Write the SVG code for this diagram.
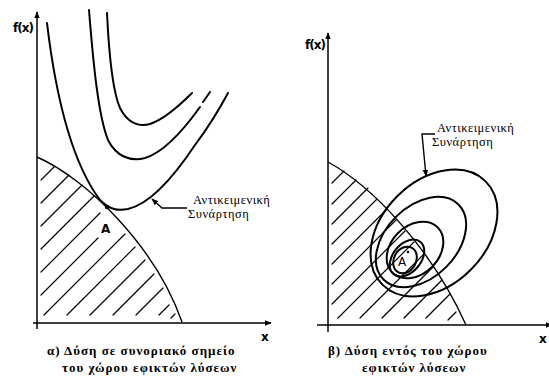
<svg xmlns="http://www.w3.org/2000/svg" width="549" height="378" viewBox="0 0 549 378">
  <defs>
    <marker id="ax" viewBox="0 0 10 10" refX="9" refY="5" markerWidth="7" markerHeight="7" markerUnits="userSpaceOnUse" orient="auto">
      <path d="M0,1 L10,5 L0,9 Z" fill="#000"/>
    </marker>
    <marker id="ar" viewBox="0 0 10 10" refX="9" refY="5" markerWidth="7" markerHeight="7" markerUnits="userSpaceOnUse" orient="auto">
      <path d="M0,1 L10,5 L0,9 Z" fill="#000"/>
    </marker>
  </defs>
  <style>
    .axis { stroke: #000; stroke-width: 1.5; fill: none; }
    .curve { stroke: #000; stroke-width: 2; fill: none; stroke-linecap: round; }
    .bound { stroke: #000; stroke-width: 1.4; fill: none; }
    .hatch { stroke: #000; stroke-width: 1.2; fill: none; stroke-linecap: round; }
    .lead { stroke: #000; stroke-width: 1.4; fill: none; }
    .lbl { font-family: "Liberation Serif", "DejaVu Serif", serif; font-size: 12.5px; fill: #000; letter-spacing: 0.5px; }
    .cap { font-family: "Liberation Serif", "DejaVu Serif", serif; font-size: 13px; font-weight: bold; fill: #000; letter-spacing: 1px; }
    .hand { font-family: "DejaVu Sans", "Liberation Sans", sans-serif; font-size: 12px; fill: #000; }
  </style>
  <rect width="549" height="378" fill="#fff"/>

  <!-- Panel a -->
  <g id="panel-a">
    <g id="a-axes">
      <line class="axis" x1="37" y1="329" x2="37" y2="12" marker-end="url(#ax)"/>
      <line class="axis" x1="33" y1="323" x2="271" y2="323" marker-end="url(#ax)"/>
      <text class="hand" x="13" y="32" font-weight="bold" letter-spacing="-1">f(x)</text>
      <text class="hand" x="261" y="341" font-weight="bold">x</text>
    </g>
    <g id="a-feasible">
      <path class="bound" d="M37,157 C85,178 155,245 182,322"/>
      <g class="hatch">
        <line x1="41" y1="180" x2="54" y2="167"/>
        <line x1="41" y1="203" x2="69" y2="175"/>
        <line x1="41" y1="226" x2="82" y2="185"/>
        <line x1="41" y1="249" x2="94" y2="196"/>
        <line x1="41" y1="272" x2="100" y2="213"/>
        <line x1="41" y1="295" x2="98" y2="238"/>
        <line x1="44" y1="315" x2="125" y2="234"/>
        <line x1="67" y1="315" x2="135" y2="247"/>
        <line x1="90" y1="315" x2="145" y2="260"/>
        <line x1="113" y1="315" x2="154" y2="274"/>
        <line x1="136" y1="315" x2="163" y2="288"/>
        <line x1="159" y1="315" x2="169" y2="305"/>
        <line x1="171" y1="318" x2="175" y2="314"/>
      </g>
    </g>
    <g id="a-objective">
      <path class="curve" d="M107,13 C109,55 112,90 120,108 C128,124 140,127 150,124 C165,119 180,105 192,93"/>
      <path class="curve" d="M89,10 C93,60 98,115 108,140 C116,156 130,162 145,158 C165,152 185,128 200,107 M203,102 L210,92"/>
      <path class="curve" d="M47,23 C55,90 70,160 100,200 C110,210 118,211 128,209 C150,204 175,175 195,145 C210,125 220,108 228,93"/>
      <circle cx="107" cy="207" r="2.2" fill="#000"/>
    </g>
    <g id="a-pointA">
      <text class="hand" x="101" y="233" font-weight="bold">A</text>
    </g>
    <g id="a-label">
      <text class="lbl" x="193" y="204">Αντικειμενική</text>
      <text class="lbl" x="188" y="218">Συνάρτηση</text>
    </g>
    <g id="a-caption">
      <text class="cap" x="47" y="355">α) Δύση σε συνοριακό σημείο</text>
      <text class="cap" x="62" y="372">του χώρου εφικτών λύσεων</text>
    </g>
  </g>

  <!-- Panel b -->
  <g id="panel-b">
    <g id="b-axes">
      <line class="axis" x1="328" y1="332" x2="328" y2="33" marker-end="url(#ax)"/>
      <line class="axis" x1="317" y1="325" x2="552" y2="325" marker-end="url(#ax)"/>
      <text class="hand" x="305" y="49" font-weight="bold" letter-spacing="-1">f(x)</text>
      <text class="hand" x="539" y="343" font-weight="bold">x</text>
    </g>
    <g id="b-feasible">
      <path class="bound" d="M328,162 C370,185 430,245 466,325"/>
      <g class="hatch">
        <line x1="332" y1="183" x2="344" y2="171"/>
        <line x1="332" y1="204" x2="356" y2="180"/>
        <line x1="332" y1="224" x2="368" y2="188"/>
        <line x1="332" y1="244" x2="377" y2="199"/>
        <line x1="332" y1="264" x2="386" y2="210"/>
        <line x1="332" y1="284" x2="396" y2="220"/>
        <line x1="332" y1="304" x2="405" y2="231"/>
        <line x1="338" y1="318" x2="414" y2="242"/>
        <line x1="360" y1="318" x2="424" y2="254"/>
        <line x1="382" y1="318" x2="433" y2="267"/>
        <line x1="404" y1="318" x2="442" y2="280"/>
        <line x1="426" y1="318" x2="450" y2="294"/>
        <line x1="448" y1="320" x2="456" y2="312"/>
      </g>
    </g>
    <g id="b-objective">
      <ellipse class="curve" cx="434" cy="233" rx="73" ry="52" transform="rotate(-45 434 233)"/>
      <ellipse class="curve" cx="421" cy="242" rx="53" ry="35.5" transform="rotate(-45 421 242)"/>
      <ellipse class="curve" cx="415" cy="250" rx="32" ry="24" transform="rotate(-45 415 250)"/>
      <ellipse class="curve" cx="407" cy="258" rx="21" ry="14" transform="rotate(-50 407 258)"/>
      <ellipse class="curve" cx="405" cy="260" rx="14" ry="11" transform="rotate(-60 405 260)"/>
    </g>
    <g id="b-pointA">
      <text class="hand" x="398" y="266" font-size="11">A</text>
      <circle cx="408" cy="252" r="1.2" fill="#000"/>
    </g>
    <g id="b-label">
      <text class="lbl" x="437" y="132">Αντικειμενική</text>
      <text class="lbl" x="432" y="146">Συνάρτηση</text>
    </g>
    <g id="b-caption">
      <text class="cap" x="328" y="355">β) Δύση εντός του χώρου</text>
      <text class="cap" x="362" y="372">εφικτών λύσεων</text>
    </g>
  </g>

  <!-- Connectors -->
  <g id="connectors">
    <path class="lead" d="M187,208 L162,208 L152,199" marker-end="url(#ar)"/>
    <path class="lead" d="M435,134 L422,134 L426,176" marker-end="url(#ar)"/>
  </g>
</svg>
